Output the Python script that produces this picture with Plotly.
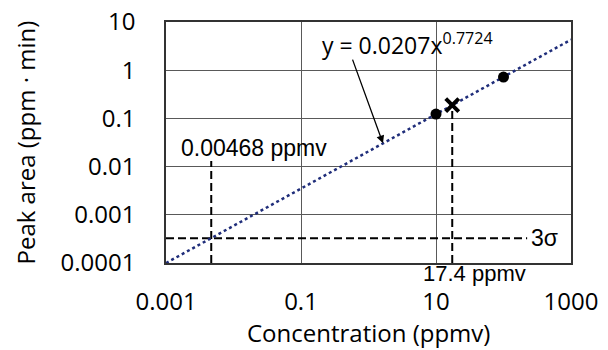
import numpy as np
import plotly.graph_objects as go

# ---- data ----
std_conc = [10, 100]            # ppmv, calibration standards
std_area = [0.123, 0.72]        # ppm*min
sample_conc = [17.4]
sample_area = [0.188]
fit_a = 0.0207
fit_b = 0.7724
fit_conc = [0.001, 1000]        # extent of the fitted line
lod_conc = 0.00468              # ppmv at 3 sigma
three_sigma = 0.000327          # ppm*min
lod_top = 0.013                 # top of the LOD guide line
sigma_line_end = 224            # ppmv, end of the 3 sigma guide line
x_tick_vals = [0.001, 0.1, 10, 1000]
x_tick_text = ["0.001", "0.1", "10", "1000"]
y_tick_vals = [0.0001, 0.001, 0.01, 0.1, 1, 10]
y_tick_text = ["0.0001", "0.001", "0.01", "0.1", "1", "10"]
arrow_tip_conc = 1.64
arrow_tail = (0.57, 1.78)

fit_area = [fit_a * c ** fit_b for c in fit_conc]
arrow_tip_area = fit_a * arrow_tip_conc ** fit_b

TICK_FONT = dict(family="Open Sans", size=24, color="black")
TITLE_FONT = dict(family="Open Sans", size=24, color="black")
ANN_FONT = dict(family="Liberation Sans", size=23, color="black")
DASH = dict(color="black", width=2, dash="8px,4px")

fig = go.Figure()

# 3 sigma horizontal guide
fig.add_trace(go.Scatter(x=[fit_conc[0], sigma_line_end], y=[three_sigma, three_sigma],
                         mode="lines", line=DASH, hoverinfo="skip", showlegend=False))
# LOD vertical guide
fig.add_trace(go.Scatter(x=[lod_conc, lod_conc], y=[y_tick_vals[0], lod_top],
                         mode="lines", line=DASH, hoverinfo="skip", showlegend=False))
# sample vertical guide
fig.add_trace(go.Scatter(x=[sample_conc[0], sample_conc[0]], y=[y_tick_vals[0], sample_area[0]],
                         mode="lines", line=DASH, hoverinfo="skip", showlegend=False))
# fit line
fig.add_trace(go.Scatter(x=fit_conc, y=fit_area, mode="lines",
                         line=dict(color="#1f2d7a", width=2.5, dash="dot"),
                         showlegend=False))
# standards
fig.add_trace(go.Scatter(x=std_conc, y=std_area, mode="markers",
                         marker=dict(symbol="circle", size=11, color="black"),
                         showlegend=False))
# sample
fig.add_trace(go.Scatter(x=sample_conc, y=sample_area, mode="markers",
                         marker=dict(symbol="x-thin", size=13,
                                     line=dict(color="black", width=4)),
                         showlegend=False))

# equation annotation with arrow
fig.add_annotation(x=np.log10(arrow_tip_conc), y=np.log10(arrow_tip_area),
                   ax=np.log10(arrow_tail[0]), ay=np.log10(arrow_tail[1]),
                   xref="x", yref="y", axref="x", ayref="y",
                   text="", showarrow=True, arrowhead=2, arrowsize=1.2,
                   arrowwidth=1.3, arrowcolor="black")
fig.add_annotation(x=np.log10(arrow_tail[0]), y=np.log10(arrow_tail[1]),
                   xref="x", yref="y", text="y = 0.0207x<sup>0.7724</sup>",
                   showarrow=False, xanchor="left", yanchor="bottom",
                   xshift=-32, yshift=-5,
                   font=dict(family="Open Sans", size=23, color="black"))
fig.add_annotation(x=np.log10(lod_conc), y=np.log10(lod_top), xref="x", yref="y",
                   text="0.00468 ppmv", showarrow=False, xanchor="left",
                   yanchor="bottom", xshift=-32, yshift=-2, font=ANN_FONT)
fig.add_annotation(x=np.log10(sample_conc[0]), y=0, xref="x", yref="paper",
                   text="17.4 ppmv", showarrow=False, xanchor="left",
                   yanchor="top", xshift=-31, yshift=4,
                   font=dict(family="Liberation Sans", size=22, color="black"))
fig.add_annotation(x=np.log10(sigma_line_end), y=np.log10(three_sigma), xref="x", yref="y",
                   text="3σ", showarrow=False, xanchor="left", yanchor="middle",
                   xshift=2, font=ANN_FONT)

# axis titles
fig.add_annotation(x=0.5, y=0, xref="paper", yref="paper", text="Concentration (ppmv)",
                   showarrow=False, xanchor="center", yanchor="middle", yshift=-69,
                   font=TITLE_FONT)
fig.add_annotation(x=0, y=0.5, xref="paper", yref="paper", text="Peak area (ppm · min)",
                   showarrow=False, xanchor="center", yanchor="middle", xshift=-141,
                   textangle=-90, font=TITLE_FONT)

fig.update_xaxes(type="log", range=[-3, 3], tickvals=x_tick_vals, ticktext=x_tick_text,
                 showgrid=True, gridcolor="#595959", gridwidth=1.3,
                 showline=True, linecolor="#333333", linewidth=1.5, mirror=True,
                 ticks="outside", ticklen=16, tickcolor="rgba(0,0,0,0)",
                 tickfont=TICK_FONT, zeroline=False, ticklabeloverflow="allow")
fig.update_yaxes(type="log", range=[-4, 1], tickvals=y_tick_vals, ticktext=y_tick_text,
                 showgrid=True, gridcolor="#595959", gridwidth=1.3,
                 showline=True, linecolor="#333333", linewidth=1.5, mirror=True,
                 ticks="outside", ticklen=24, tickcolor="rgba(0,0,0,0)",
                 tickfont=TICK_FONT, zeroline=False, ticklabeloverflow="allow")

fig.update_layout(width=608, height=350, paper_bgcolor="white", plot_bgcolor="white",
                  margin=dict(l=158, r=45, t=14, b=95, autoexpand=False),
                  showlegend=False)

fig.write_html("out.html")
